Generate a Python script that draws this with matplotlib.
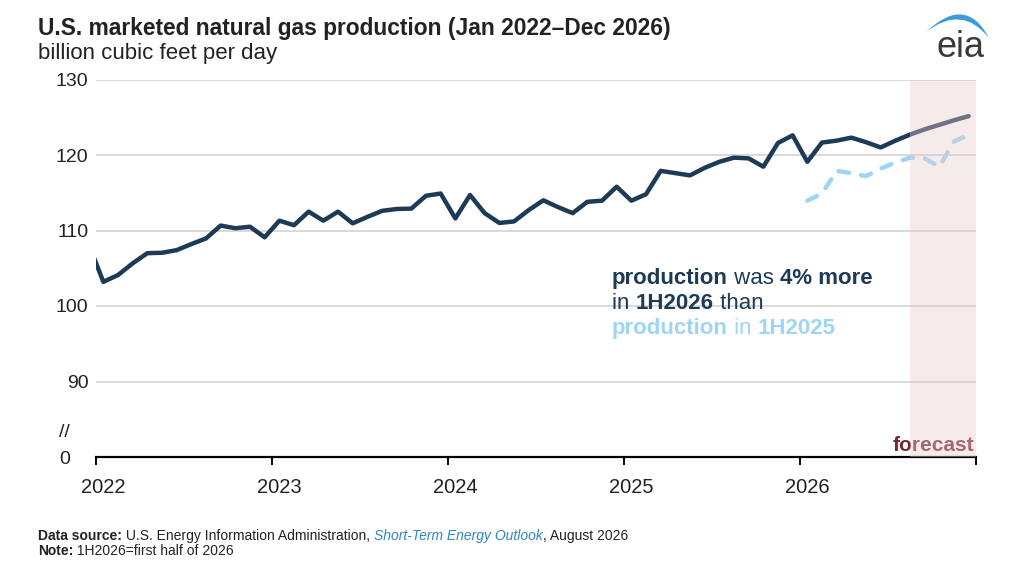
import numpy as np
import matplotlib
matplotlib.use('Agg')
import matplotlib.pyplot as plt
import matplotlib.transforms as mtransforms
from matplotlib.path import Path
from matplotlib.patches import PathPatch

plt.rcParams['font.family'] = ['Liberation Sans', 'DejaVu Sans']

# monthly values, Dec 2021 .. Dec 2026 (first point only feeds the clipped edge)
production = [108.2,
              103.2, 104.1, 105.65, 107.0, 107.05, 107.4, 108.2, 108.95, 110.65, 110.3, 110.5, 109.1,
              111.3, 110.7, 112.5, 111.3, 112.5, 110.95, 111.8, 112.6, 112.85, 112.9, 114.6, 114.9,
              111.6, 114.7, 112.3, 111.0, 111.2, 112.7, 114.0, 113.1, 112.3, 113.8, 113.95, 115.8,
              113.95, 114.8, 117.9, 117.6, 117.3, 118.3, 119.1, 119.65, 119.55, 118.45, 121.6, 122.6,
              119.1, 121.65, 121.9, 122.3, 121.7, 121.0, 121.9, 122.7, 123.4, 124.0, 124.6, 125.15]
# 2025 production drawn under the 2026 months
prior_year = [113.95, 114.9, 117.9, 117.6, 117.2, 118.2, 119.0, 119.65, 119.55, 118.45, 121.8, 122.65]

years = ['2022', '2023', '2024', '2025', '2026']
y_ticks = [90, 100, 110, 120, 130]
forecast_start = 55  # Aug 2026, month index from Jan 2022

navy = '#1d3a56'
light_blue = '#9dd5f4'
ink = '#222222'

W, H = 1024, 570
fig = plt.figure(figsize=(W / 100, H / 100), dpi=100)
ax = fig.add_axes([96 / W, 1 - 457 / H, 880 / W, 377.5 / H])

x_prod = np.arange(-1, len(production) - 1) + 0.5
x_prior = np.arange(48, 48 + len(prior_year)) + 0.5

ax.plot(x_prod, production, color=navy, lw=3.2, solid_joinstyle='round', solid_capstyle='round', zorder=3)
ax.plot(x_prior, prior_year, color=light_blue, lw=3.2, dashes=(2.4, 2.7), dash_capstyle='round', zorder=3)

# forecast shading drawn over the lines so they fade inside it
ax.axvspan(forecast_start + 0.5, 60, color=(232 / 255, 205 / 255, 207 / 255), alpha=0.4, lw=0, zorder=5)
ax.text(59.9, 80.8, 'forecast', color='#7a2630', fontsize=15, fontweight='bold',
        ha='right', va='baseline', zorder=4)

ax.set_xlim(0, 60)
ax.set_ylim(80, 130)
ax.set_yticks(y_ticks)
ax.set_yticklabels([str(v) for v in y_ticks], fontsize=14, color=ink)
ax.yaxis.grid(True, color='#d9d9d9', lw=1.4)
ax.set_axisbelow(True)
ax.tick_params(axis='y', length=0, pad=5.5)

ax.set_xticks(np.arange(0, 61, 12))
ax.set_xticklabels([])
ax.set_xticks(np.arange(0, 60, 12) + 0.5, minor=True)
ax.set_xticklabels(years, minor=True, fontsize=14.5, color=ink)
ax.tick_params(axis='x', which='major', length=6, width=1.4, color='black', direction='out')
ax.tick_params(axis='x', which='minor', length=0, pad=15)

for s in ['left', 'right', 'top']:
    ax.spines[s].set_visible(False)
ax.spines['bottom'].set_linewidth(1.6)
ax.spines['bottom'].set_color('black')

# broken axis marks
trans = mtransforms.blended_transform_factory(ax.transAxes, ax.transData)
ax.text(-0.036, 79.7, '0', transform=trans, fontsize=14, ha='center', va='center', color=ink)
ax.text(-0.036, 83.2, '//', transform=trans, fontsize=14, ha='center', va='center', color=ink)


def chain_line(pieces, x, y, size):
    # place text pieces one after another on a shared baseline
    last = None
    for txt, col, wt, st in pieces:
        if last is None:
            last = fig.text(x, y, txt, color=col, fontweight=wt, fontsize=size,
                            fontstyle=st, va='baseline', ha='left')
        else:
            last = ax.annotate(txt, xy=(1, 0), xycoords=last, color=col, fontweight=wt,
                               fontsize=size, fontstyle=st, va='bottom', ha='left',
                               annotation_clip=False)
    return last


ann_size = 16
ann_x = 612 / W
chain_line([('production', navy, 'bold', 'normal'), (' was ', navy, 'normal', 'normal'),
            ('4% more', navy, 'bold', 'normal')], ann_x, 1 - 284 / H, ann_size)
chain_line([('in ', navy, 'normal', 'normal'), ('1H2026', navy, 'bold', 'normal'),
            (' than', navy, 'normal', 'normal')], ann_x, 1 - 309 / H, ann_size)
chain_line([('production', light_blue, 'bold', 'normal'), (' in ', light_blue, 'normal', 'normal'),
            ('1H2025', light_blue, 'bold', 'normal')], ann_x, 1 - 334 / H, ann_size)

# titles
fig.text(38 / W, 1 - 35 / H, 'U.S. marketed natural gas production (Jan 2022\u2013Dec 2026)',
         fontsize=16.4, fontweight='bold', color=ink, va='baseline')
fig.text(38 / W, 1 - 59 / H, 'billion cubic feet per day', fontsize=16, color=ink, va='baseline')

# footer
chain_line([('Data source:', ink, 'bold', 'normal'),
            (' U.S. Energy Information Administration, ', ink, 'normal', 'normal'),
            ('Short-Term Energy Outlook', '#2e86c1', 'normal', 'italic'),
            (', August 2026', ink, 'normal', 'normal')], 38 / W, 1 - 540 / H, 10)
chain_line([('Note:', ink, 'bold', 'normal'),
            (' 1H2026=first half of 2026', ink, 'normal', 'normal')], 38 / W, 1 - 555 / H, 10)


# eia logo
def fp(px, py):
    return (px / W, 1 - py / H)


verts = [fp(926, 32), fp(966, -6), fp(989, 38), fp(962, 4), fp(926, 32)]
codes = [Path.MOVETO, Path.CURVE3, Path.CURVE3, Path.CURVE3, Path.CURVE3]
fig.patches.append(PathPatch(Path(verts, codes), facecolor='#3d9bd8', edgecolor='none',
                             transform=fig.transFigure))
fig.text(960 / W, 1 - 57 / H, 'eia', fontsize=26, color='#3a3a3a', ha='center', va='baseline')

fig.savefig('out.png', dpi=100)
